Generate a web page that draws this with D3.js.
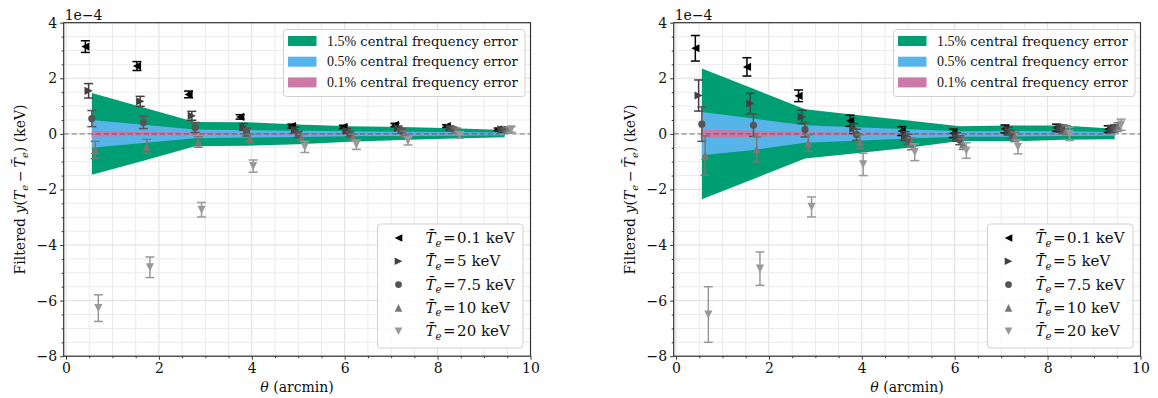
<!DOCTYPE html>
<html>
<head>
<meta charset="utf-8">
<script src="https://cdn.jsdelivr.net/npm/d3@7"></script>
<style>
  body { margin: 0; background: #fff; }
  text { font-family: "DejaVu Serif", serif; fill: #111; }
  .math { font-family: "DejaVu Serif", serif; }
  .pct { font-family: "Liberation Serif", "DejaVu Serif", serif; }
</style>
</head>
<body>
<svg id="fig" width="1158" height="398"></svg>
<script>
// Radial bin centres (arcmin) and per-temperature horizontal offsets
const thetaBins = [0.556, 1.667, 2.778, 3.889, 5.0, 6.111, 7.222, 8.333, 9.444];
const seriesNames = ["0.1", "5", "7.5", "10", "20"];
const seriesOffsets = [-0.14, -0.07, 0.0, 0.07, 0.14];
const seriesColors = ["#000000", "#404040", "#555555", "#777777", "#999999"];
const seriesShapes = ["left", "right", "circle", "up", "down"];

// Bands: central frequency error envelopes (units of 1e-4 keV)
const bandNames = ["1.5%", "0.5%", "0.1%"];
const bandColors = ["#009E73", "#56B4E9", "#CC79A7"];

// ---- left panel ----
const leftT01 = [3.14, 2.44, 1.42, 0.61, 0.28, 0.25, 0.32, 0.28, 0.16];
const leftT01Err = [0.21, 0.16, 0.12, 0.08, 0.07, 0.06, 0.06, 0.05, 0.05];
const leftT5 = [1.55, 1.17, 0.65, 0.25, 0.14, 0.11, 0.21, 0.22, 0.16];
const leftT5Err = [0.26, 0.18, 0.16, 0.12, 0.1, 0.08, 0.07, 0.06, 0.05];
const leftT75 = [0.55, 0.41, 0.23, 0.06, -0.02, -0.01, 0.1, 0.17, 0.15];
const leftT75Err = [0.29, 0.22, 0.18, 0.14, 0.11, 0.09, 0.08, 0.07, 0.06];
const leftT10 = [-0.58, -0.45, -0.29, -0.17, -0.14, -0.11, 0.01, 0.13, 0.15];
const leftT10Err = [0.31, 0.25, 0.19, 0.15, 0.12, 0.1, 0.09, 0.08, 0.07];
const leftT20 = [-6.27, -4.8, -2.73, -1.16, -0.47, -0.39, -0.25, -0.04, 0.16];
const leftT20Err = [0.48, 0.37, 0.26, 0.22, 0.2, 0.17, 0.15, 0.12, 0.1];

const leftGreenUp = [1.47, 0.95, 0.43, 0.42, 0.34, 0.27, 0.25, 0.2, 0.14];
const leftGreenLo = [-1.47, -0.97, -0.45, -0.43, -0.37, -0.28, -0.22, -0.17, -0.12];
const leftBlueUp = [0.5, 0.33, 0.16, 0.13, 0.11, 0.09, 0.08, 0.07, 0.05];
const leftBlueLo = [-0.5, -0.33, -0.16, -0.13, -0.11, -0.09, -0.08, -0.07, -0.05];
const leftPinkUp = [0.1, 0.07, 0.045, 0.035, 0.03, 0.025, 0.02, 0.02, 0.015];
const leftPinkLo = [-0.1, -0.07, -0.045, -0.035, -0.03, -0.025, -0.02, -0.02, -0.015];

// ---- right panel ----
const rightT01 = [3.08, 2.41, 1.37, 0.47, 0.1, 0.02, 0.18, 0.22, 0.17];
const rightT01Err = [0.46, 0.33, 0.21, 0.2, 0.16, 0.15, 0.14, 0.13, 0.12];
const rightT5 = [1.38, 1.09, 0.61, 0.19, -0.08, -0.11, 0.1, 0.19, 0.18];
const rightT5Err = [0.56, 0.37, 0.24, 0.18, 0.16, 0.15, 0.14, 0.13, 0.12];
const rightT75 = [0.35, 0.31, 0.16, -0.03, -0.19, -0.23, 0.0, 0.18, 0.2];
const rightT75Err = [0.62, 0.4, 0.27, 0.2, 0.18, 0.16, 0.15, 0.14, 0.13];
const rightT10 = [-0.78, -0.56, -0.33, -0.28, -0.36, -0.37, -0.11, 0.13, 0.25];
const rightT10Err = [0.71, 0.45, 0.3, 0.25, 0.21, 0.19, 0.17, 0.16, 0.15];
const rightT20 = [-6.5, -4.85, -2.63, -1.1, -0.66, -0.6, -0.47, 0.0, 0.33];
const rightT20Err = [1.0, 0.6, 0.36, 0.4, 0.3, 0.28, 0.25, 0.24, 0.2];

const rightGreenUp = [2.35, 1.62, 0.89, 0.68, 0.48, 0.27, 0.3, 0.3, 0.18];
const rightGreenLo = [-2.35, -1.62, -0.89, -0.7, -0.5, -0.26, -0.27, -0.21, -0.19];
const rightBlueUp = [0.79, 0.55, 0.31, 0.24, 0.17, 0.09, 0.1, 0.09, 0.07];
const rightBlueLo = [-0.77, -0.58, -0.32, -0.25, -0.17, -0.1, -0.1, -0.08, -0.07];
const rightPinkUp = [0.15, 0.11, 0.06, 0.05, 0.035, 0.025, 0.02, 0.02, 0.015];
const rightPinkLo = [-0.15, -0.11, -0.06, -0.05, -0.035, -0.025, -0.02, -0.02, -0.015];

// Axis ticks
const xMajorTicks = [0, 2, 4, 6, 8, 10];
const yMajorTicks = [-8, -6, -4, -2, 0, 2, 4];
const xDomain = [-0.05, 10];
const yDomain = [-8, 4];

const panels = [
  {
    x0: 63.7, x1: 530.5,
    values: [leftT01, leftT5, leftT75, leftT10, leftT20],
    errors: [leftT01Err, leftT5Err, leftT75Err, leftT10Err, leftT20Err],
    bands: [[leftGreenLo, leftGreenUp], [leftBlueLo, leftBlueUp], [leftPinkLo, leftPinkUp]]
  },
  {
    x0: 673.7, x1: 1140.5,
    values: [rightT01, rightT5, rightT75, rightT10, rightT20],
    errors: [rightT01Err, rightT5Err, rightT75Err, rightT10Err, rightT20Err],
    bands: [[rightGreenLo, rightGreenUp], [rightBlueLo, rightBlueUp], [rightPinkLo, rightPinkUp]]
  }
];

const yTop = 22.7, yBottom = 356.2;
const svg = d3.select("#fig");
const fmtMinus = v => String(v).replace("-", "\u2212");

function markerPath(shape, s) {
  switch (shape) {
    case "left":  return `M${-s},0L${s},${-s}L${s},${s}Z`;
    case "right": return `M${s},0L${-s},${-s}L${-s},${s}Z`;
    case "up":    return `M0,${-s}L${-s},${s}L${s},${s}Z`;
    case "down":  return `M0,${s}L${-s},${-s}L${s},${-s}Z`;
  }
  return null;
}

function drawMarker(g, shape, color, cx, cy) {
  if (shape === "circle") {
    g.append("circle").attr("cx", cx).attr("cy", cy).attr("r", 3.6).attr("fill", color);
  } else {
    g.append("path").attr("d", markerPath(shape, 4.1))
      .attr("transform", `translate(${cx},${cy})`).attr("fill", color);
  }
}

function mathLabel(sel, value, size) {
  // T̄_e = value keV
  sel.append("tspan").attr("class", "math").attr("font-style", "italic").text("T\u0304");
  sel.append("tspan").attr("class", "math").attr("font-style", "italic")
    .attr("font-size", size * 0.68).attr("dy", 3.5).text("e");
  sel.append("tspan").attr("class", "math").attr("dy", -3.5).text("\u200a=\u200a" + value);
  sel.append("tspan").text(" keV");
}

panels.forEach(p => {
  const x = d3.scaleLinear().domain(xDomain).range([p.x0, p.x1]);
  const y = d3.scaleLinear().domain(yDomain).range([yBottom, yTop]);
  const g = svg.append("g");

  // grid: minor every 0.5, major at labelled ticks
  const xMinor = d3.range(0, 10.001, 0.5);
  const yMinor = d3.range(-8, 4.001, 0.5);
  const grid = g.append("g");
  grid.selectAll(".gx").data(xMinor).join("line")
    .attr("x1", d => x(d)).attr("x2", d => x(d)).attr("y1", yTop).attr("y2", yBottom)
    .attr("stroke", d => xMajorTicks.includes(d) ? "#dedede" : "#ebebeb").attr("stroke-width", 1);
  grid.selectAll(".gy").data(yMinor).join("line")
    .attr("y1", d => y(d)).attr("y2", d => y(d)).attr("x1", p.x0).attr("x2", p.x1)
    .attr("stroke", d => yMajorTicks.includes(d) ? "#dedede" : "#ebebeb").attr("stroke-width", 1);

  // frequency-error bands
  p.bands.forEach((b, bi) => {
    const pts = thetaBins.map((t, i) => ({ t, lo: b[0][i], hi: b[1][i] }));
    const area = d3.area().x(d => x(d.t)).y0(d => y(d.lo)).y1(d => y(d.hi));
    g.append("path").attr("d", area(pts)).attr("fill", bandColors[bi]);
  });

  // zero reference line
  g.append("line").attr("x1", p.x0).attr("x2", p.x1).attr("y1", y(0)).attr("y2", y(0))
    .attr("stroke", "#444").attr("stroke-opacity", 0.55).attr("stroke-width", 1.4)
    .attr("stroke-dasharray", "5,3");

  // error bars and markers
  p.values.forEach((vals, si) => {
    const col = seriesColors[si];
    const sg = g.append("g");
    vals.forEach((v, i) => {
      const cx = x(thetaBins[i] + seriesOffsets[si]);
      const e = p.errors[si][i];
      const yl = y(v - e), yh = y(v + e);
      sg.append("line").attr("x1", cx).attr("x2", cx).attr("y1", yl).attr("y2", yh)
        .attr("stroke", col).attr("stroke-width", 1.5);
      [yl, yh].forEach(yy => sg.append("line").attr("x1", cx - 4.5).attr("x2", cx + 4.5)
        .attr("y1", yy).attr("y2", yy).attr("stroke", col).attr("stroke-width", 1.5));
      drawMarker(sg, seriesShapes[si], col, cx, y(v));
    });
  });

  // axes
  g.append("g").attr("transform", `translate(0,${yBottom})`)
    .call(d3.axisBottom(x).tickValues(xMajorTicks).tickSize(3.5).tickPadding(3).tickFormat(d3.format("d")));
  g.append("g").attr("transform", `translate(0,${yBottom})`)
    .call(d3.axisBottom(x).tickValues(xMinor.filter(d => !xMajorTicks.includes(d))).tickSize(2).tickFormat(""));
  g.append("g").attr("transform", `translate(${p.x0},0)`)
    .call(d3.axisLeft(y).tickValues(yMajorTicks).tickSize(3.5).tickPadding(3).tickFormat(fmtMinus));
  g.append("g").attr("transform", `translate(${p.x0},0)`)
    .call(d3.axisLeft(y).tickValues(yMinor.filter(d => !yMajorTicks.includes(d))).tickSize(2).tickFormat(""));
  g.selectAll(".domain").remove();
  g.selectAll(".tick line").attr("stroke", "#333").attr("stroke-width", 1);
  g.selectAll(".tick text").attr("font-family", "DejaVu Serif").attr("font-size", 14).attr("fill", "#111");

  // frame
  g.append("rect").attr("x", p.x0).attr("y", yTop).attr("width", p.x1 - p.x0).attr("height", yBottom - yTop)
    .attr("fill", "none").attr("stroke", "#333").attr("stroke-width", 1.2);

  // scale factor
  g.append("text").attr("x", p.x0 + 1).attr("y", 20).attr("font-size", 14).text("1e\u22124");

  // axis titles
  const xl = g.append("text").attr("x", (p.x0 + p.x1) / 2).attr("y", 392).attr("text-anchor", "middle")
    .attr("font-size", 14);
  xl.append("tspan").attr("class", "math").attr("font-style", "italic").text("\u03b8");
  xl.append("tspan").text(" (arcmin)");

  const yl = g.append("text").attr("transform", `translate(${p.x0 - 39},${(yTop + yBottom) / 2}) rotate(-90)`)
    .attr("text-anchor", "middle").attr("font-size", 14);
  yl.append("tspan").text("Filtered ");
  yl.append("tspan").attr("class", "math").attr("font-style", "italic").text("y");
  yl.append("tspan").attr("class", "math").text("(");
  yl.append("tspan").attr("class", "math").attr("font-style", "italic").text("T");
  yl.append("tspan").attr("class", "math").attr("font-style", "italic").attr("font-size", 10).attr("dy", 3).text("e");
  yl.append("tspan").attr("class", "math").attr("dy", -3).text("\u2009\u2212\u2009");
  yl.append("tspan").attr("class", "math").attr("font-style", "italic").text("T\u0304");
  yl.append("tspan").attr("class", "math").attr("font-style", "italic").attr("font-size", 10).attr("dy", 3).text("e");
  yl.append("tspan").attr("class", "math").attr("dy", -3).text(")");
  yl.append("tspan").text("\u00a0(keV)");

  // band legend
  const l1w = 241.5, l1x = p.x1 - 5.5 - l1w, l1y = 29.5;
  const l1 = g.append("g");
  l1.append("rect").attr("x", l1x).attr("y", l1y).attr("width", l1w).attr("height", 67)
    .attr("rx", 3).attr("fill", "#fff").attr("fill-opacity", 0.85).attr("stroke", "#d0d0d0");
  bandNames.forEach((nm, i) => {
    const cy = 41 + i * 20.7;
    l1.append("rect").attr("x", l1x + 4.5).attr("y", cy - 5).attr("width", 28.5).attr("height", 10)
      .attr("fill", bandColors[i]);
    const t = l1.append("text").attr("x", l1x + 43.5).attr("y", cy + 4.5).attr("font-size", 13.2);
    t.append("tspan").attr("class", "pct").attr("font-size", 14).text(nm);
    t.append("tspan").text(" central frequency error");
  });

  // temperature legend
  const l2w = 145.5, l2x = p.x1 - 7.5 - l2w, l2y = 224;
  const l2 = g.append("g");
  l2.append("rect").attr("x", l2x).attr("y", l2y).attr("width", l2w).attr("height", 124)
    .attr("rx", 3).attr("fill", "#fff").attr("fill-opacity", 0.85).attr("stroke", "#d0d0d0");
  seriesNames.forEach((nm, i) => {
    const cy = 238 + i * 23.3;
    const s = seriesShapes[i];
    if (s === "circle") l2.append("circle").attr("cx", l2x + 21).attr("cy", cy).attr("r", 3.4).attr("fill", seriesColors[i]);
    else l2.append("path").attr("d", markerPath(s, 3.8)).attr("transform", `translate(${l2x + 21},${cy})`).attr("fill", seriesColors[i]);
    const t = l2.append("text").attr("x", l2x + 48).attr("y", cy + 5).attr("font-size", 15);
    mathLabel(t, nm, 15);
  });
});
</script>
</body>
</html>
